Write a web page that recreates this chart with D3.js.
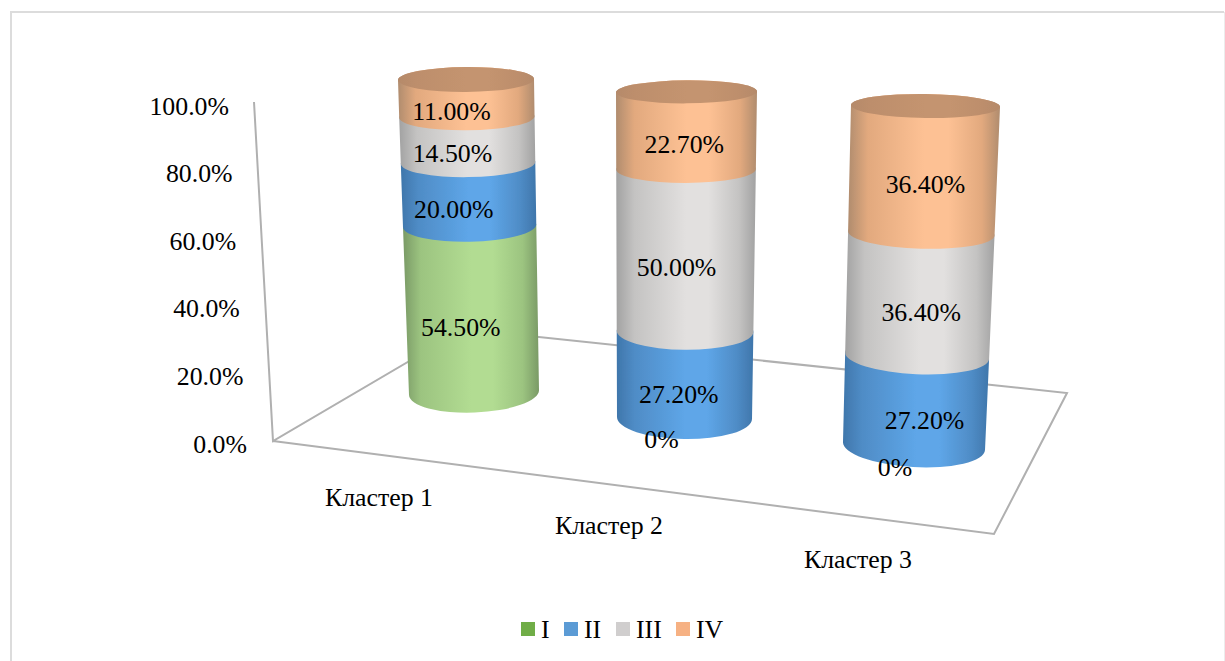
<!DOCTYPE html>
<html>
<head>
<meta charset="utf-8">
<script src="https://cdn.jsdelivr.net/npm/d3@7/dist/d3.min.js"></script>
<style>
html,body{margin:0;padding:0;background:#fff;overflow:hidden}
text{font-family:"Liberation Serif",serif;fill:#000}
</style>
</head>
<body>
<script>
// ---- data ----
const clusters = ["Кластер 1", "Кластер 2", "Кластер 3"];
const seriesNames = ["I", "II", "III", "IV"];
const valuesI   = [54.5, 0, 0];
const valuesII  = [20.0, 27.2, 27.2];
const valuesIII = [14.5, 50.0, 36.4];
const valuesIV  = [11.0, 22.7, 36.4];
const axisTicks = [0, 20, 40, 60, 80, 100];
const seriesValues = [valuesI, valuesII, valuesIII, valuesIV];

// ---- styles ----
const legendColors = ["#70ad47", "#5b9bd5", "#d0cece", "#f6b183"];
const bodyShades = [
  ["#7a9a66", "#9cc480", "#b2dc92"],
  ["#3f76ab", "#4f8cc6", "#5ea6e8"],
  ["#a2a2a2", "#c4c3c2", "#e2e0df"],
  ["#b08c6e", "#e2a97e", "#fdc194"]
];
const capShades = ["#b58a6b", "#bd8e6c", "#c4946f"];
const fontSize = 25.8;

// ---- layout: projected 3D geometry, one set of scales per cylinder ----
const W = 1225, H = 661;
const depthDomain = [0, 50, 90, 100];   // foreshortening of the value axis
const depthShift = [0, 4, 3, 0];
const projection = [
  {left:[409,398], right:[539,534], yLeft:[395,80],  yRight:[390,79],  ry:[20,12.5], labelDx:[-11,-15,-15,-15], zeroDx:-23, catX:379, catY:497},
  {left:[617,616], right:[752,757], yLeft:[417,92],  yRight:[419,91],  ry:[21,11.5], labelDx:[-5,-6,-9,-2],     zeroDx:-23, catX:609, catY:525},
  {left:[843,851], right:[985,1000],yLeft:[442,105], yRight:[450,107], ry:[21,12],   labelDx:[2,9,2,2],         zeroDx:-19, catX:858, catY:559}
];
function bowed(range){
  const base = d3.scaleLinear().domain([0,100]).range(range);
  return d3.scaleLinear().domain(depthDomain).range(depthDomain.map((v,i) => base(v) + depthShift[i]));
}
const cyl = projection.map(p => {
  const d = [0, 100];
  return {
    xL: d3.scaleLinear().domain(d).range(p.left),
    xR: d3.scaleLinear().domain(d).range(p.right),
    yL: bowed(p.yLeft),
    yR: bowed(p.yRight),
    ry: d3.scaleLinear().domain(d).range(p.ry),
    p
  };
});

const svg = d3.select("body").append("svg").attr("width", W).attr("height", H).style("display","block");
const defs = svg.append("defs");
defs.append("filter").attr("id","soft").attr("x","-5%").attr("y","-5%").attr("width","110%").attr("height","110%")
  .append("feGaussianBlur").attr("stdDeviation",0.6);

function hGrad(id, s){
  const g = defs.append("linearGradient").attr("id", id).attr("x1",0).attr("x2",1).attr("y1",0).attr("y2",0);
  [[0,s[0]],[0.13,s[1]],[0.5,s[2]],[0.66,s[2]],[0.88,s[1]],[1,s[0]]].forEach(([o,c]) =>
    g.append("stop").attr("offset",o).attr("stop-color",c));
}
bodyShades.forEach((s,i) => hGrad("body"+i, s));
hGrad("cap", capShades);

// chart frame
svg.append("path").attr("d", d3.line()([[11,661],[11,12],[1224,12]]))
  .attr("fill","none").attr("stroke","#dcdcdc").attr("stroke-width",2);
svg.append("line").attr("x1",1224.5).attr("x2",1224.5).attr("y1",12).attr("y2",661).attr("stroke","#ececec").attr("stroke-width",1);

// floor and wall
const axisStroke = "#b0b0b0";
const corners = {top:[254,102], origin:[273,441], backLeft:[464,329], backRight:[1067,393], frontRight:[994,534]};
svg.append("path")
  .attr("d", d3.line()([corners.top, corners.origin, corners.backLeft, corners.backRight, corners.frontRight, corners.origin]))
  .attr("fill","none").attr("stroke",axisStroke).attr("stroke-width",2).attr("stroke-linejoin","miter");

// value axis labels, following the leaning wall
const yTick = d3.scaleLinear().domain([0,100]).range([444,106]);
const xTick = d3.scaleLinear().domain([0,100]).range([247,229]);
svg.append("g").selectAll("text").data(axisTicks).join("text")
  .attr("x", d => xTick(d)).attr("y", d => yTick(d))
  .attr("dy","0.33em").attr("text-anchor","end").attr("font-size",fontSize)
  .text(d => d3.format(".1f")(d) + "%");

// cylinders
function segmentPath(c, lo, hi){
  const a = [c.xL(lo), c.yL(lo)], b = [c.xR(lo), c.yR(lo)];
  const e = [c.xR(hi), c.yR(hi)], f = [c.xL(hi), c.yL(hi)];
  const rxL = (b[0]-a[0])/2, rxH = (e[0]-f[0])/2;
  const rotL = Math.atan2(b[1]-a[1], b[0]-a[0])*180/Math.PI;
  const rotH = Math.atan2(e[1]-f[1], e[0]-f[0])*180/Math.PI;
  return `M${a}A${rxL},${c.ry(lo)} ${rotL} 0 0 ${b}L${e}A${rxH},${c.ry(hi)} ${rotH} 0 0 ${f}Z`;
}
function capPath(c, v){
  const f = [c.xL(v), c.yL(v)], e = [c.xR(v), c.yR(v)];
  const rx = (e[0]-f[0])/2, rot = Math.atan2(e[1]-f[1], e[0]-f[0])*180/Math.PI;
  return `M${f}A${rx},${c.ry(v)} ${rot} 0 0 ${e}A${rx},${c.ry(v)} ${rot} 0 0 ${f}Z`;
}

const stacked = clusters.map((name, ci) => {
  let acc = 0;
  return seriesNames.map((s, si) => {
    const v = seriesValues[si][ci];
    const seg = {ci, si, v, lo: acc, hi: acc + v};
    acc += v;
    return seg;
  });
});

const bars = svg.append("g").attr("filter","url(#soft)");
stacked.forEach((segs, ci) => {
  const c = cyl[ci];
  const g = bars.append("g");
  g.selectAll("path.seg").data(segs.filter(d => d.v > 0)).join("path")
    .attr("class","seg")
    .attr("d", d => segmentPath(c, d.lo, d.hi))
    .attr("fill", d => `url(#body${d.si})`);
  const total = segs[segs.length-1].hi;
  g.append("path").attr("d", capPath(c, total)).attr("fill","url(#cap)");
});

// data labels
const pct = d => d === 0 ? "0%" : d3.format(".2f")(d) + "%";
const labels = svg.append("g");
stacked.flat().forEach(d => {
  const c = cyl[d.ci];
  const m = (d.lo + d.hi)/2;
  const cx = (c.xL(m) + c.xR(m))/2 + (d.v === 0 ? c.p.zeroDx : c.p.labelDx[d.si]);
  const cy = (c.yL(m) + c.yR(m))/2 + c.ry(m);
  labels.append("text").attr("x",cx).attr("y",cy).attr("dy","0.33em")
    .attr("text-anchor","middle").attr("font-size",fontSize).text(pct(d.v));
});

// category labels
svg.append("g").selectAll("text").data(clusters).join("text")
  .attr("x",(d,i)=>projection[i].catX).attr("y",(d,i)=>projection[i].catY)
  .attr("dy","0.33em").attr("text-anchor","middle").attr("font-size",fontSize).text(d=>d);

// legend
const legendX = d3.scaleOrdinal().domain(seriesNames).range([521,564,616,676]);
const lg = svg.append("g").selectAll("g").data(seriesNames).join("g")
  .attr("transform", d => `translate(${legendX(d)},622)`);
lg.append("rect").attr("width",14).attr("height",14).attr("fill",(d,i)=>legendColors[i]);
lg.append("text").attr("x",20).attr("y",7).attr("dy","0.33em").attr("font-size",fontSize).text(d=>d);
</script>
</body>
</html>
